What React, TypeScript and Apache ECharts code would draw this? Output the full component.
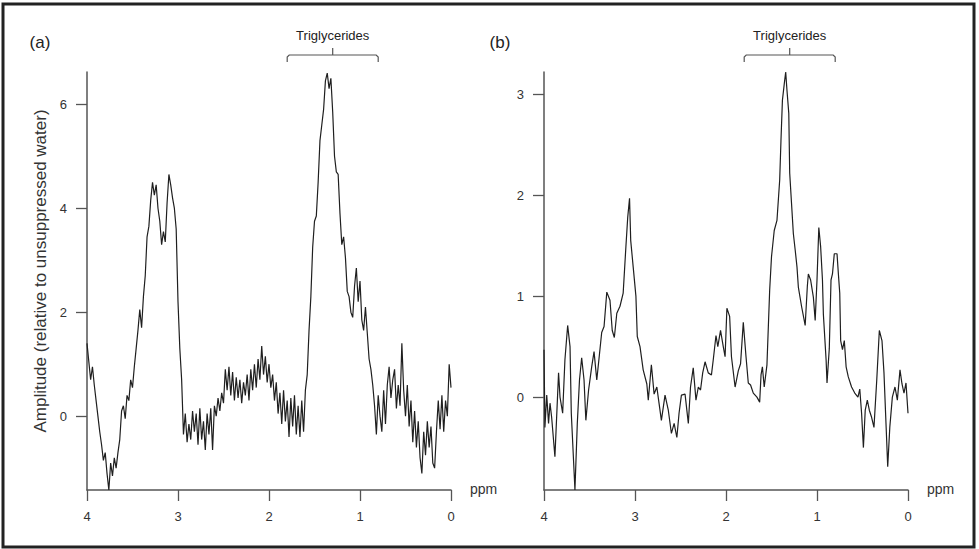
import React, { useEffect, useRef } from "react";
import * as echarts from "echarts";

// Panel (a): amplitude sampled every 0.02 ppm from 4.00 down to 0.00
const ampA = [
  1.4, 1.05, 0.7, 0.95, 0.6, 0.3, 0.0, -0.3, -0.55, -0.85,
  -0.7, -1.1, -1.42, -0.9, -1.15, -0.8, -1.0, -0.7, -0.45, 0.1,
  0.2, -0.05, 0.4, 0.3, 0.7, 0.55, 0.95, 1.3, 1.65, 2.05,
  1.7, 2.3, 2.7, 3.45, 3.65, 4.15, 4.5, 4.25, 4.45, 4.0,
  3.75, 3.3, 3.55, 3.35, 4.1, 4.65, 4.45, 4.2, 4.0, 3.6,
  2.2, 1.3, 0.7, -0.35, 0.05, -0.5, -0.15, -0.45, 0.1, -0.3,
  0.05, -0.55, 0.15, -0.45, -0.1, -0.65, 0.05, -0.35, 0.15, -0.65,
  0.2, 0.0, 0.35, 0.1, 0.45, 0.25, 0.9, 0.5, 0.95, 0.4,
  0.85, 0.3, 0.75, 0.35, 0.7, 0.25, 0.65, 0.4, 0.8, 0.3,
  0.9, 0.5, 1.0, 0.55, 1.1, 0.7, 1.35, 0.8, 1.15, 0.65,
  1.0, 0.55, 0.8, 0.3, 0.65, 0.05, 0.45, -0.15, 0.5, -0.1,
  0.3, -0.4, 0.35, -0.2, 0.4, -0.35, 0.2, -0.4, 0.3, -0.3,
  0.5, 0.8, 1.65, 2.3, 3.25, 3.75, 3.85, 4.5, 5.3, 5.6,
  5.9, 6.45, 6.6, 6.3, 6.5, 5.85, 5.0, 4.7, 4.65, 3.9,
  3.3, 3.45, 3.05, 2.4, 2.3, 2.0, 1.9, 2.5, 2.85, 2.2,
  2.6, 1.85, 1.65, 2.1, 1.6, 1.1, 0.9, 0.6, 0.2, -0.35,
  0.4, 0.0, -0.3, 0.5, -0.15, 0.6, 0.95, 0.35, 0.7, 0.9,
  0.15, 0.6, 0.2, 1.4, 0.5, 0.0, 0.6, -0.2, 0.3, -0.5,
  0.1, -0.6, -0.1, -0.8, -1.1, -0.3, -0.75, -0.1, -0.6, -0.2,
  -0.9, -1.0, -0.3, 0.3, -0.25, 0.4, -0.3, 0.3, 0.0, 1.0,
  0.55,
];
const stepA = 0.02;

// Panel (b): chemical shift (ppm) and amplitude
const ppmB = [
  4.0, 3.99, 3.97, 3.95, 3.934, 3.916, 3.88, 3.84, 3.824, 3.795,
  3.77, 3.74, 3.714, 3.7, 3.66, 3.634, 3.61, 3.586, 3.56, 3.54,
  3.51, 3.476, 3.45, 3.42, 3.39, 3.366, 3.34, 3.31, 3.275, 3.25,
  3.227, 3.2, 3.165, 3.13, 3.1, 3.08, 3.06, 3.047, 3.02, 2.99,
  2.975, 2.945, 2.91, 2.87, 2.854, 2.82, 2.79, 2.76, 2.736, 2.71,
  2.67, 2.634, 2.6, 2.57, 2.54, 2.516, 2.49, 2.45, 2.414, 2.39,
  2.36, 2.33, 2.304, 2.28, 2.256, 2.23, 2.195, 2.16, 2.14, 2.11,
  2.09, 2.06, 2.03, 2.01, 1.99, 1.96, 1.94, 1.9, 1.865, 1.84,
  1.81, 1.78, 1.755, 1.73, 1.7, 1.66, 1.63, 1.615, 1.6, 1.58,
  1.55, 1.52, 1.5, 1.47, 1.44, 1.41, 1.396, 1.38, 1.36, 1.344,
  1.33, 1.31, 1.3, 1.28, 1.26, 1.24, 1.22, 1.205, 1.17, 1.13,
  1.106, 1.095, 1.07, 1.04, 1.02, 1.0, 0.98, 0.96, 0.94, 0.93,
  0.9, 0.89, 0.865, 0.846, 0.83, 0.81, 0.78, 0.765, 0.75, 0.74,
  0.72, 0.7, 0.68, 0.656, 0.62, 0.585, 0.55, 0.53, 0.51, 0.49,
  0.47, 0.447, 0.425, 0.4, 0.374, 0.344, 0.315, 0.286, 0.264, 0.24,
  0.223, 0.2, 0.172, 0.143, 0.117, 0.088, 0.066, 0.044, 0.022, 0.0,
];
const ampB = [
  0.47, -0.3, 0.02, -0.26, -0.06, -0.2, -0.59, 0.24, 0.0, -0.16,
  0.37, 0.71, 0.5, -0.16, -0.92, -0.26, 0.17, 0.39, 0.17, -0.23,
  0.07, 0.3, 0.45, 0.17, 0.43, 0.64, 0.7, 1.04, 0.96, 0.66,
  0.59, 0.83, 0.9, 1.03, 1.49, 1.78, 1.97, 1.55, 1.29, 1.0,
  0.6, 0.5, 0.27, 0.13, -0.03, 0.32, 0.03, 0.1, -0.06, -0.23,
  0.02, -0.13, -0.36, -0.26, -0.4, -0.16, 0.02, 0.03, -0.26, 0.1,
  0.29, -0.03, 0.1, 0.07, 0.24, 0.35, 0.24, 0.22, 0.37, 0.61,
  0.5, 0.66, 0.5, 0.4, 0.88, 0.8, 0.4, 0.1, 0.26, 0.33,
  0.74, 0.4, 0.14, 0.12, 0.04, 0.0, -0.05, 0.22, 0.3, 0.1,
  0.32, 1.06, 1.39, 1.65, 1.75, 2.15, 2.54, 2.94, 3.1, 3.22,
  3.04, 2.81, 2.22, 1.92, 1.62, 1.46, 1.29, 1.09, 0.9, 0.71,
  1.1, 1.22, 1.16, 0.99, 0.76, 1.16, 1.68, 1.49, 1.16, 0.82,
  0.37, 0.14, 0.48, 1.16, 1.22, 1.42, 1.42, 1.22, 1.03, 0.56,
  0.47, 0.56, 0.3, 0.2, 0.1, 0.04, 0.0, 0.08, -0.16, -0.5,
  -0.13, -0.03, -0.13, -0.2, -0.3, 0.16, 0.66, 0.56, 0.24, -0.3,
  -0.69, -0.3, 0.0, 0.1, -0.03, 0.27, 0.13, 0.04, 0.14, -0.16,
];

const yTicksA = [0, 2, 4, 6];
const yTicksB = [0, 1, 2, 3];
const panelLabels = ["(a)", "(b)"];
const bracketLabel = "Triglycerides";
const bracketRange = [1.8, 0.8];
const yTitle = "Amplitude (relative to unsuppressed water)";
const xUnit = "ppm";

const FONT = '"Liberation Sans", Arial, sans-serif';

export default function App() {
  const ref = useRef<HTMLDivElement>(null);

  useEffect(() => {
    if (!ref.current) return;
    const chart = echarts.init(ref.current, null, { renderer: "svg" });

    const grids = [
      { left: 87, top: 72, width: 364, height: 418 },
      { left: 544, top: 72, width: 364, height: 418 },
    ];
    const axisColor = "#555";
    const labelColor = "#333";

    const dataA = ampA.map((v, i) => [+(4 - i * stepA).toFixed(3), v]);
    const dataB = ampB.map((v, i) => [ppmB[i], v]);

    const xAxisBase = (gi: number) => ({
      type: "value",
      gridIndex: gi,
      min: 0,
      max: 4,
      interval: 1,
      inverse: true,
      axisLine: { show: true, onZero: false, lineStyle: { color: axisColor, width: 1.5 } },
      axisTick: { show: true, length: 11, lineStyle: { color: axisColor, width: 1.3 } },
      axisLabel: { margin: 20, color: labelColor, fontSize: 13, fontFamily: FONT },
      splitLine: { show: false },
    });
    const yAxisBase = (gi: number, min: number, max: number, ticks: number[]) => ({
      type: "value",
      gridIndex: gi,
      min,
      max,
      axisLine: { show: true, onZero: false, lineStyle: { color: axisColor, width: 1.5 } },
      axisTick: {
        show: true,
        length: 11,
        customValues: ticks,
        lineStyle: { color: axisColor, width: 1.3 },
      },
      axisLabel: {
        margin: 20,
        color: labelColor,
        fontSize: 13,
        fontFamily: FONT,
        customValues: ticks,
      },
      splitLine: { show: false },
    });

    const px = (gi: number, ppm: number) => grids[gi].left + ((4 - ppm) / 4) * grids[gi].width;

    const graphics: any[] = [
      {
        type: "rect",
        silent: true,
        shape: { x: 3, y: 4, width: 971, height: 543 },
        style: { fill: "none", stroke: "#222", lineWidth: 3 },
      },
      {
        type: "text",
        silent: true,
        x: 40,
        y: 271,
        rotation: Math.PI / 2,
        style: {
          text: yTitle,
          fill: "#333",
          font: `17px ${FONT}`,
          textAlign: "center",
          textVerticalAlign: "middle",
          align: "center",
          verticalAlign: "middle",
        },
      },
    ];
    [0, 1].forEach((gi) => {
      const xl = px(gi, bracketRange[0]);
      const xr = px(gi, bracketRange[1]);
      const xc = (xl + xr) / 2;
      graphics.push(
        {
          type: "text",
          silent: true,
          x: gi === 0 ? 40 : 500,
          y: 42,
          style: {
            text: panelLabels[gi],
            fill: "#222",
            font: `17px ${FONT}`,
            textAlign: "center",
            textVerticalAlign: "middle",
            align: "center",
            verticalAlign: "middle",
          },
        },
        {
          type: "text",
          silent: true,
          x: xc,
          y: 35,
          style: {
            text: bracketLabel,
            fill: "#222",
            font: `13px ${FONT}`,
            textAlign: "center",
            textVerticalAlign: "middle",
            align: "center",
            verticalAlign: "middle",
          },
        },
        {
          type: "polyline",
          silent: true,
          shape: { points: [[xl, 62], [xl, 57], [xl + 2, 55], [xr - 2, 55], [xr, 57], [xr, 62]] },
          style: { fill: "none", stroke: "#555", lineWidth: 1.2 },
        },
        {
          type: "line",
          silent: true,
          shape: { x1: xc, y1: 55, x2: xc, y2: 48 },
          style: { stroke: "#555", lineWidth: 1.2 },
        },
        {
          type: "text",
          silent: true,
          x: grids[gi].left + grids[gi].width + 19,
          y: 489,
          style: {
            text: xUnit,
            fill: "#333",
            font: `14px ${FONT}`,
            textAlign: "left",
            textVerticalAlign: "middle",
            align: "left",
            verticalAlign: "middle",
          },
        }
      );
    });

    const lineStyle = { color: "#1f1f1f", width: 1.2 };

    chart.setOption({
      animation: false,
      textStyle: { fontFamily: FONT },
      grid: grids,
      xAxis: [xAxisBase(0), xAxisBase(1)],
      yAxis: [yAxisBase(0, -1.42, 6.62, yTicksA), yAxisBase(1, -0.92, 3.22, yTicksB)],
      series: [
        {
          type: "line",
          xAxisIndex: 0,
          yAxisIndex: 0,
          data: dataA,
          showSymbol: false,
          lineStyle,
          silent: true,
        },
        {
          type: "line",
          xAxisIndex: 1,
          yAxisIndex: 1,
          data: dataB,
          showSymbol: false,
          lineStyle,
          silent: true,
        },
      ],
      graphic: graphics,
    });

    return () => chart.dispose();
  }, []);

  return (
    <div
      ref={ref}
      style={{ position: "fixed", left: 0, top: 0, width: 979, height: 549, background: "#fff" }}
    />
  );
}
